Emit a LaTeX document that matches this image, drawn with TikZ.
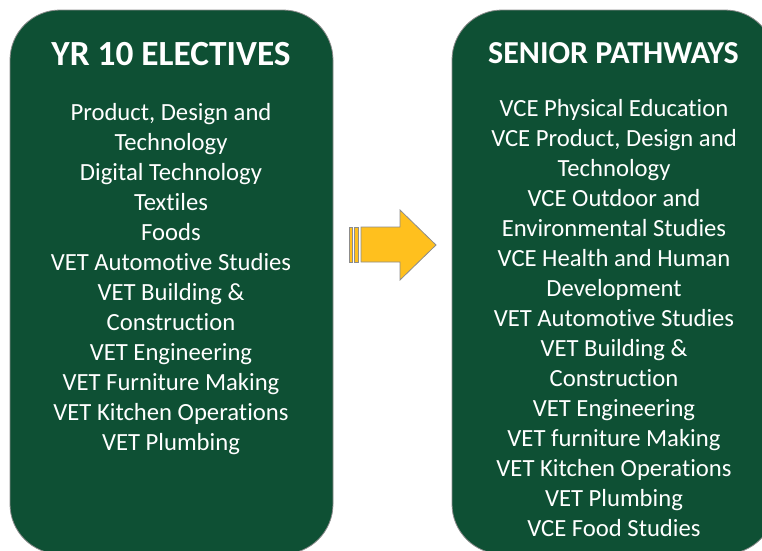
\documentclass[tikz,border=0pt]{standalone}
\usepackage{fontspec}
\setmainfont{Carlito}[Ligatures=NoCommon]
\usepackage{xcolor}
\definecolor{boxgreen}{RGB}{14,80,52}
\definecolor{arrowyellow}{RGB}{255,192,30}

\begin{document}
\begin{tikzpicture}[x=0.75pt,y=-0.75pt,
  panel/.style={rectangle,rounded corners=37.5pt,draw=black!45,fill=boxgreen,line width=0.6pt,
    minimum width=242.25pt,minimum height=408pt},
  head/.style={text=white,font=\bfseries,anchor=base},
  item/.style={text=white,font=\fontsize{18.5}{22}\selectfont,anchor=base},
  stripe/.style={draw=black!45,fill=arrowyellow,line width=0.6pt}]
  \useasboundingbox (0,0) rectangle (762,550);

  \node[panel] (yr10) at (171.5,282) {};
  \node[panel] (senior) at (613.5,282) {};

  \node[head,font=\fontsize{26.5}{30}\selectfont\bfseries] (yr10head) at (171,65) {YR 10 ELECTIVES};
  \node[head,font=\fontsize{24}{28}\selectfont\bfseries] (seniorhead) at (613.5,63) {SENIOR PATHWAYS};

  \foreach \txt [count=\i] in {{Product, Design and},Technology,Digital Technology,Textiles,Foods,
      VET Automotive Studies,VET Building \&,Construction,VET Engineering,
      VET Furniture Making,VET Kitchen Operations,VET Plumbing}
    \node[item] (yr10item\i) at (171,90+30*\i) {\txt};

  \foreach \txt [count=\i] in {VCE Physical Education,{VCE Product, Design and},Technology,
      VCE Outdoor and,Environmental Studies,VCE Health and Human,Development,
      VET Automotive Studies,VET Building \&,Construction,VET Engineering,
      VET furniture Making,VET Kitchen Operations,VET Plumbing,VCE Food Studies}
    \node[item] (senioritem\i) at (614,86+30*\i) {\txt};

  % arrow between the panels
  \draw[stripe] (349,227) rectangle (352,262);
  \draw[stripe] (354,227) rectangle (358,262);
  \draw[stripe] (361,227) -- (400,227) -- (400,210) -- (436,245) -- (400,280)
    -- (400,262) -- (361,262) -- cycle;
\end{tikzpicture}
\end{document}
